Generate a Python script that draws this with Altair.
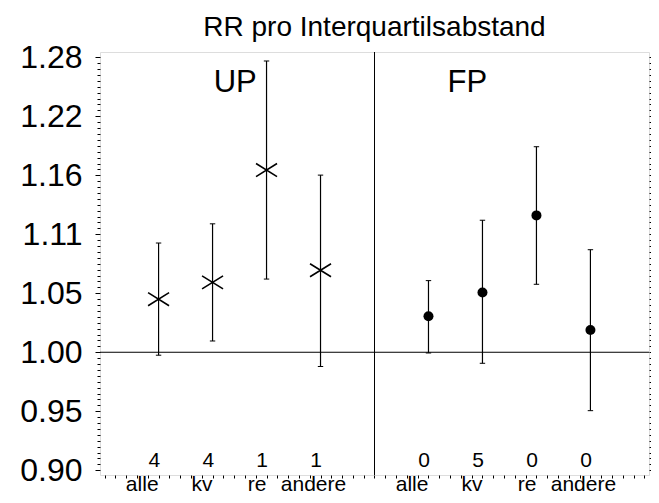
import numpy as np
import pandas as pd
import altair as alt

FONT = "Liberation Sans"

# ---- data ----
groups = ["alle", "kv", "re", "andere"]
UP_rr = [1.046, 1.061, 1.167, 1.072]
UP_lo = [0.9975, 1.0096, 1.064, 0.988]
UP_hi = [1.097, 1.115, 1.280, 1.162]
UP_n = [4, 4, 1, 1]
FP_rr = [1.031, 1.052, 1.123, 1.019]
FP_lo = [0.9994, 0.9907, 1.0593, 0.9517]
FP_hi = [1.0626, 1.1184, 1.1903, 1.0908]
FP_n = [0, 5, 0, 0]
panels = ["UP", "FP"]
TITLE = "RR pro Interquartilsabstand"

# y tick values (equally spaced in log RR), labelled with 2 decimals
Y_MAJOR = [0.9048, 0.9512, 1.0, 1.0513, 1.1052, 1.1618, 1.2214, 1.2840]
logs = np.log(Y_MAJOR)
minor = []
for a, b in zip(logs[:-1], logs[1:]):
    minor.extend(np.exp(np.linspace(a, b, 11))[:-1].tolist())
minor.append(Y_MAJOR[-1])
Y_TICKS = minor
X_TICKS = [round(0.2 * k, 1) for k in range(51)]

rows = []
for p, (rr, lo, hi, n) in enumerate([(UP_rr, UP_lo, UP_hi, UP_n), (FP_rr, FP_lo, FP_hi, FP_n)]):
    for i, g in enumerate(groups):
        rows.append(dict(panel=panels[p], group=g, x=1 + i + 5 * p,
                         rr=rr[i], lo=lo[i], hi=hi[i], n=str(n[i])))
df = pd.DataFrame(rows)

ydom = [0.9012, 1.2898]
yscale = alt.Scale(type="log", domain=ydom, nice=False)
xscale = alt.Scale(domain=[-0.085, 10.085], nice=False, zero=False)

is_major = "abs(log(datum.value)*20 - round(log(datum.value)*20)) < 0.05"
left_axis = alt.Axis(orient="left", values=Y_TICKS, title=None, grid=False, domain=False,
                     labelExpr=f"{is_major} ? format(datum.value, '.2f') : ''",
                     labelFontSize=32, labelFont=FONT, labelColor="black",
                     labelPadding=13, labelOverlap=False, labelBound=False, labelFlush=False,
                     tickColor="black", tickWidth=1,
                     tickSize=alt.condition(is_major, alt.value(5), alt.value(3)))
right_axis = alt.Axis(orient="right", values=Y_TICKS, title=None, grid=False, domain=False,
                      labels=False, tickColor="black", tickWidth=1,
                      tickSize=alt.condition(is_major, alt.value(5), alt.value(3)))
x_axis = alt.Axis(values=X_TICKS, labels=False, title=None, grid=False, domain=False,
                  tickSize=3, tickColor="black", tickWidth=1)

X = alt.X("x:Q", scale=xscale, axis=x_axis)
base = alt.Chart(df)

# error bars
bars = base.mark_rule(color="black", strokeWidth=1.2).encode(
    x=X, y=alt.Y("lo:Q", scale=yscale, axis=left_axis), y2="hi:Q")
cap_lo = base.mark_rule(color="black", strokeWidth=1, xOffset=-2.7, x2Offset=2.7).encode(
    x=X, x2="x:Q", y=alt.Y("lo:Q", scale=yscale, axis=None))
cap_hi = base.mark_rule(color="black", strokeWidth=1, xOffset=-2.7, x2Offset=2.7).encode(
    x=X, x2="x:Q", y=alt.Y("hi:Q", scale=yscale, axis=None))

xshape = "M-1,-0.62L1,0.62M-1,0.62L1,-0.62"
up_pts = base.transform_filter("datum.panel == 'UP'").mark_point(
    shape=xshape, size=441, filled=False, color="black", strokeWidth=1.6, opacity=1).encode(
    x=X, y=alt.Y("rr:Q", scale=yscale, axis=right_axis))
fp_pts = base.transform_filter("datum.panel == 'FP'").mark_circle(
    size=100, color="black", opacity=1).encode(
    x=X, y=alt.Y("rr:Q", scale=yscale, axis=None))

# reference lines
href = alt.Chart(pd.DataFrame({"ref": [1.0]})).mark_rule(color="black", strokeWidth=1).encode(
    y=alt.Y("ref:Q", scale=yscale, axis=None))
vdiv = alt.Chart(pd.DataFrame({"x": [5.0]})).mark_rule(color="black", strokeWidth=1).encode(x=X)

# count numbers near the bottom
counts = base.transform_calculate(xt="datum.x - 0.08", yt="0.9076").mark_text(
    font=FONT, fontSize=21, color="black", align="center", baseline="alphabetic").encode(
    x=alt.X("xt:Q", scale=xscale, axis=x_axis), y=alt.Y("yt:Q", scale=yscale, axis=None), text="n:N")

# panel labels
plab = alt.Chart(pd.DataFrame({"panel": panels, "x": [2.42, 6.72], "y": [1.2468, 1.2468]})).mark_text(
    font=FONT, fontSize=31, color="black", align="center", baseline="alphabetic").encode(
    x=alt.X("x:Q", scale=xscale, axis=x_axis), y=alt.Y("y:Q", scale=yscale, axis=None), text="panel:N")

# title (centred over the plot area)
ttl = alt.Chart(pd.DataFrame({"t": [TITLE], "x": [5.0], "y": [1.3074]})).mark_text(
    font=FONT, fontSize=28, color="black", align="center", baseline="alphabetic").encode(
    x=alt.X("x:Q", scale=xscale, axis=x_axis), y=alt.Y("y:Q", scale=yscale, axis=None), text="t:N")

# category labels under the axis
LAB_Y = "0.8893"
cat3 = base.transform_filter("datum.group != 'andere'").transform_calculate(yt=LAB_Y).mark_text(
    font=FONT, fontSize=21, color="black", align="right", baseline="alphabetic").encode(
    x=X, y=alt.Y("yt:Q", scale=yscale, axis=None), text="group:N")
cat4 = base.transform_filter("datum.group == 'andere'").transform_calculate(
    xt="datum.x - 0.13", yt=LAB_Y).mark_text(
    font=FONT, fontSize=21, color="black", align="center", baseline="alphabetic").encode(
    x=alt.X("xt:Q", scale=xscale, axis=x_axis), y=alt.Y("yt:Q", scale=yscale, axis=None), text="group:N")

chart = alt.layer(bars, up_pts, cap_lo, cap_hi, fp_pts, href, vdiv, counts, plab, ttl, cat3, cat4).resolve_axis(
    y="independent").properties(
    width=549, height=423,
    autosize=alt.AutoSizeParams(type="none"),
    padding={"left": 92, "top": 44, "right": 2, "bottom": 20},
).configure_view(stroke="black", strokeWidth=1).configure(background="white")

chart.save("out.html", embed_options={"renderer": "svg", "actions": False})
